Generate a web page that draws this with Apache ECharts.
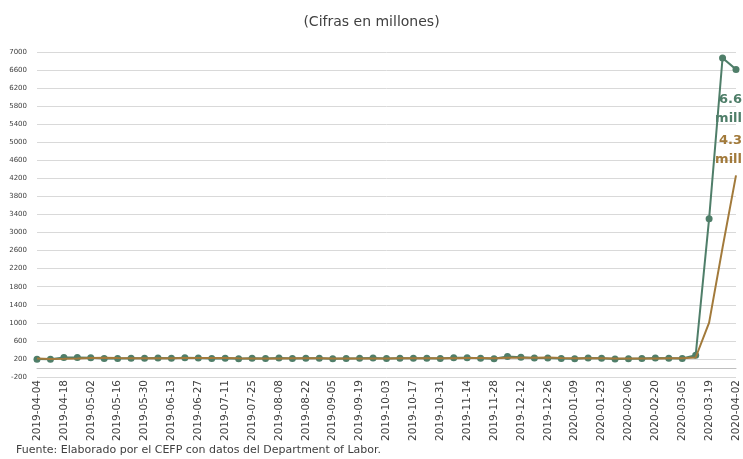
<!DOCTYPE html>
<html>
<head>
<meta charset="utf-8">
<script src="https://cdn.jsdelivr.net/npm/echarts@6/dist/echarts.min.js"></script>
<style>
html,body{margin:0;padding:0;background:#fff;}
#c{width:743px;height:459px;}
</style>
</head>
<body>
<div id="c"></div>
<script>
const categories = ["2019-04-04","2019-04-11","2019-04-18","2019-04-25","2019-05-02","2019-05-09","2019-05-16","2019-05-23","2019-05-30","2019-06-06","2019-06-13","2019-06-20","2019-06-27","2019-07-04","2019-07-11","2019-07-18","2019-07-25","2019-08-01","2019-08-08","2019-08-15","2019-08-22","2019-08-29","2019-09-05","2019-09-12","2019-09-19","2019-09-26","2019-10-03","2019-10-10","2019-10-17","2019-10-24","2019-10-31","2019-11-07","2019-11-14","2019-11-21","2019-11-28","2019-12-05","2019-12-12","2019-12-19","2019-12-26","2020-01-02","2020-01-09","2020-01-16","2020-01-23","2020-01-30","2020-02-06","2020-02-13","2020-02-20","2020-02-27","2020-03-05","2020-03-12","2020-03-19","2020-03-26","2020-04-02"];
const weeklyClaims = [196,192,230,230,228,212,211,215,218,222,216,227,222,209,216,206,215,209,220,209,215,217,204,208,213,219,210,214,213,218,211,225,227,213,203,252,235,222,220,212,207,223,216,201,206,210,219,216,211,282,3307,6867,6615];
const movingAvg4w = [207.5,200.25,205,212,220,225,220.25,216.5,214,216.5,217.75,220.75,221.75,218.5,218.5,213.25,211.5,211.5,212.5,213.25,213.25,215.25,211.25,211,210.5,211,212.5,214,214,213.75,214,216.75,220.25,219,217,223.75,225.75,228,232.25,222.25,215.25,215.5,214.5,211.75,211.5,208.25,209,212.75,214,232,1004,2666.75,4267.75];
const yTicks = [-200,200,600,1000,1400,1800,2200,2600,3000,3400,3800,4200,4600,5000,5400,5800,6200,6600,7000];

const GREEN = '#4f7e69';
const BROWN = '#a27a3b';
const FONT = 'DejaVu Sans';

function withEndLabel(arr, color, pos, offset) {
  return arr.map((v, i) => {
    if (i !== arr.length - 1) return v;
    return {
      value: v,
      label: {
        show: true,
        position: pos,
        offset: offset,
        align: 'right',
        formatter: (v / 1000).toFixed(1) + '\nmill',
        color: color,
        fontWeight: 'bold',
        fontSize: 13,
        lineHeight: 19,
        fontFamily: FONT
      }
    };
  });
}

const chart = echarts.init(document.getElementById('c'), null, {renderer: 'canvas'});
chart.setOption({
  animation: false,
  backgroundColor: '#fff',
  textStyle: {fontFamily: FONT},
  title: {
    text: '(Cifras en millones)',
    left: 'center',
    top: 10,
    textStyle: {fontSize: 14, fontWeight: 'normal', color: '#404040', fontFamily: FONT}
  },
  graphic: [{
    type: 'text',
    left: 16,
    top: 445,
    style: {text: 'Fuente: Elaborado por el CEFP con datos del Department of Labor.', fontSize: 11, fill: '#404040', fontFamily: FONT}
  }],
  grid: {left: 37, right: 7, top: 52, bottom: 82, containLabel: false},
  xAxis: {
    type: 'category',
    data: categories,
    boundaryGap: false,
    axisLine: {show: true, lineStyle: {color: '#bfbfbf'}},
    axisTick: {show: false},
    axisLabel: {interval: 1, rotate: 90, fontSize: 10.5, color: '#404040', margin: 3, fontFamily: FONT}
  },
  yAxis: {
    type: 'value',
    min: -200,
    max: 7000,
    axisLine: {show: false},
    axisTick: {show: false, customValues: yTicks},
    axisLabel: {fontSize: 7, color: '#404040', margin: 10, customValues: yTicks, fontFamily: FONT,
      formatter: v => String(v)},
    splitLine: {show: true, lineStyle: {color: '#d9d9d9'}, customValues: yTicks}
  },
  series: [
    {
      type: 'line',
      data: withEndLabel(weeklyClaims, GREEN, 'bottom', [6, 12]),
      symbol: 'circle',
      symbolSize: 7,
      itemStyle: {color: GREEN},
      lineStyle: {color: GREEN, width: 2},
      z: 2
    },
    {
      type: 'line',
      data: withEndLabel(movingAvg4w, BROWN, 'top', [6, -1]),
      symbol: 'circle',
      symbolSize: 0,
      showSymbol: true,
      itemStyle: {color: BROWN},
      lineStyle: {color: BROWN, width: 2},
      z: 3
    }
  ]
});
</script>
</body>
</html>
